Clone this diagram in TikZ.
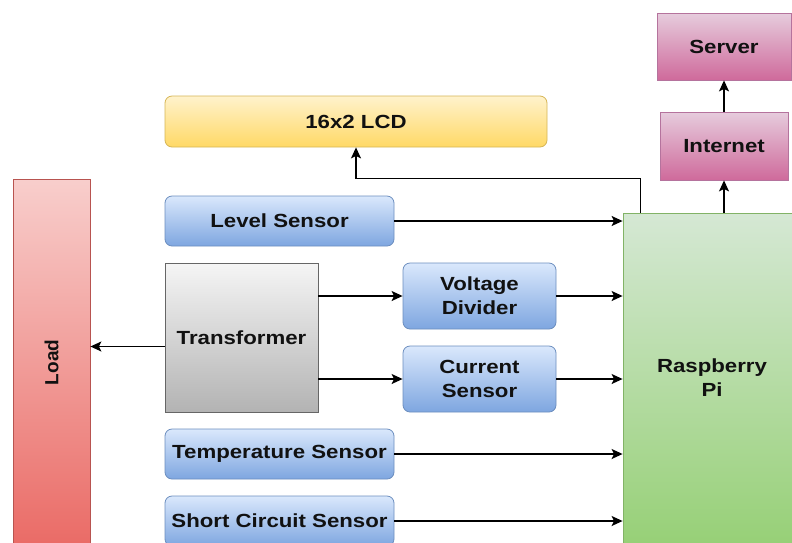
\documentclass[tikz,border=0pt]{standalone}
\usepackage{fontspec}
\setmainfont{Liberation Sans}[FakeStretch=1.17]
\newfontfamily\plainfont{Liberation Sans}
\usepackage{tikz}
\usetikzlibrary{arrows.meta, positioning, calc}

\definecolor{bluetop}{HTML}{DAE8FC}
\definecolor{bluebot}{HTML}{7EA6E0}
\definecolor{blueline}{HTML}{6C8EBF}
\definecolor{yeltop}{HTML}{FFF2CC}
\definecolor{yelbot}{HTML}{FFD966}
\definecolor{yelline}{HTML}{D6B656}
\definecolor{pinktop}{HTML}{E6CCDD}
\definecolor{pinkbot}{HTML}{CF6A9B}
\definecolor{pinkline}{HTML}{B5739D}
\definecolor{redtop}{HTML}{F8CECC}
\definecolor{redbot}{HTML}{EA6B66}
\definecolor{redline}{HTML}{B85450}
\definecolor{graytop}{HTML}{F5F5F5}
\definecolor{graybot}{HTML}{B3B3B3}
\definecolor{grayline}{HTML}{666666}
\definecolor{greentop}{HTML}{D5E8D4}
\definecolor{greenbot}{HTML}{97D077}
\definecolor{greenline}{HTML}{82B366}
\definecolor{txt}{HTML}{111111}

\begin{document}
\begin{tikzpicture}[
  x=1pt, y=1pt,
  >={Stealth[length=11pt, width=10pt, inset=2.5pt]},
  box/.style={draw, line width=0.8pt, align=center, inner sep=2pt, text=txt,
    font=\fontsize{19}{24}\selectfont\bfseries},
  sensor/.style={box, rounded corners=7pt, draw=blueline, top color=bluetop, bottom color=bluebot},
  lcdbox/.style={box, rounded corners=7pt, draw=yelline, top color=yeltop, bottom color=yelbot},
  netbox/.style={box, draw=pinkline, top color=pinktop, bottom color=pinkbot},
  loadbox/.style={box, draw=redline, top color=redtop, bottom color=redbot},
  transbox/.style={box, draw=grayline, top color=graytop, bottom color=graybot},
  pibox/.style={box, draw=greenline, top color=greentop, bottom color=greenbot},
  arrow/.style={->, line width=1.4pt, draw=black}
]
\clip (0,0) rectangle (792,-542);
\fill[white] (0,0) rectangle (792,-542);

\node[netbox, minimum width=134pt, minimum height=67pt] (server) at (724,-46.5) {Server};
\node[netbox, minimum width=128pt, minimum height=68pt] (internet) at (724,-146) {Internet};
\node[lcdbox, minimum width=382pt, minimum height=51pt] (lcd) at (356,-121.5) {16x2 LCD};

\node[loadbox, minimum width=77pt, minimum height=367pt] (load) at (51.5,-362.5) {};
\node[rotate=90, text=txt, font=\plainfont\fontsize{19}{24}\selectfont\bfseries] (loadlbl) at (load.center) {Load};

\node[sensor, minimum width=229pt, minimum height=50pt] (level) at (279.5,-221) {Level Sensor};
\node[transbox, minimum width=153pt, minimum height=149pt] (trans) at (241.5,-337.5) {Transformer};
\node[sensor, minimum width=153pt, minimum height=66pt] (vdiv) at (479.5,-296) {Voltage\\Divider};
\node[sensor, minimum width=153pt, minimum height=66pt] (csens) at (479.5,-379) {Current\\Sensor};
\node[sensor, minimum width=229pt, minimum height=50pt] (temp) at (279.5,-454) {Temperature Sensor};
\node[sensor, minimum width=229pt, minimum height=50pt] (short) at (279.5,-521) {Short Circuit Sensor};

\node[pibox, minimum width=178pt, minimum height=330pt] (rpi) at (712,-378) {Raspberry\\Pi};

% sensors into the Pi
\draw[arrow] (level.east) -- (level.east -| rpi.west);
\draw[arrow] (vdiv.east) -- (vdiv.east -| rpi.west);
\draw[arrow] (csens.east) -- (csens.east -| rpi.west);
\draw[arrow] (temp.east) -- (temp.east -| rpi.west);
\draw[arrow] (short.east) -- (short.east -| rpi.west);

% transformer
\draw[arrow] (trans.east |- vdiv.west) -- (vdiv.west);
\draw[arrow] (trans.east |- csens.west) -- (csens.west);
\draw[arrow] ([yshift=-9pt]trans.west) -- ([yshift=-9pt]trans.west -| load.east);

% outputs
\draw[arrow] ([xshift=18pt]rpi.north west) -- ++(0,34) -| (lcd.south);
\draw[arrow] (internet.south |- rpi.north) -- (internet.south);
\draw[arrow] (internet.north) -- (server.south);

\end{tikzpicture}
\end{document}
